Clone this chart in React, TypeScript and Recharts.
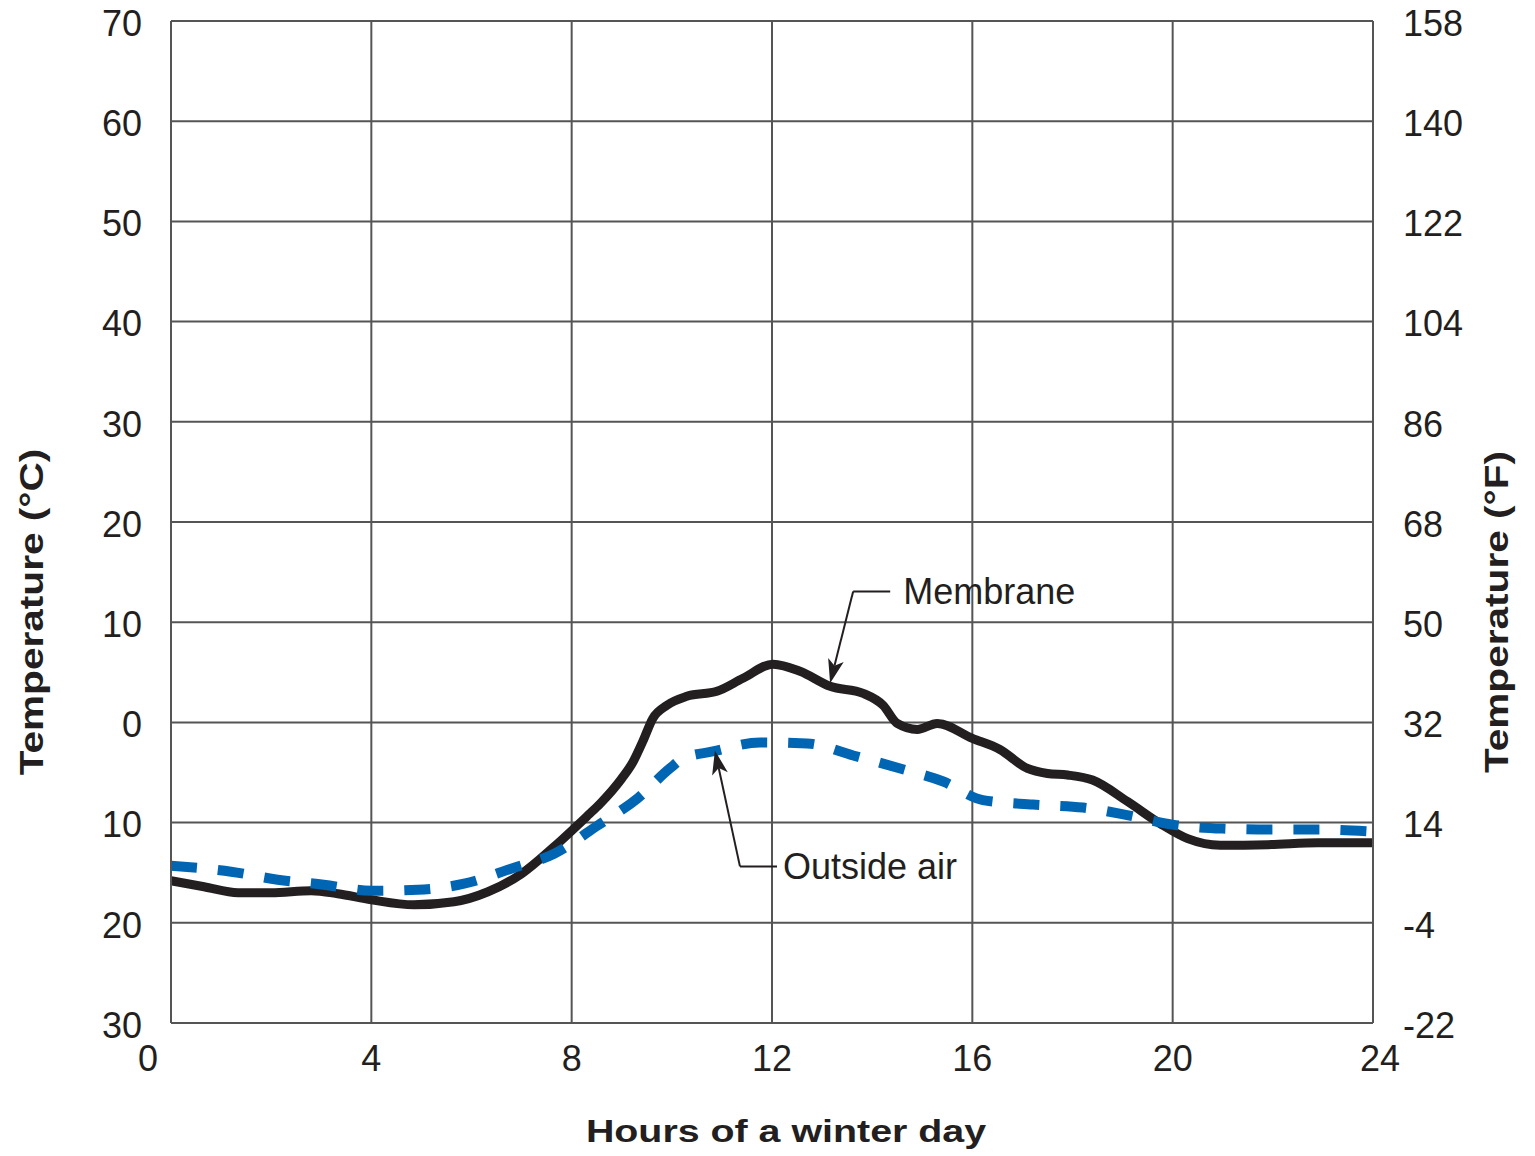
import { LineChart, Line, XAxis, YAxis, CartesianGrid, ReferenceLine, ReferenceDot, Label } from 'recharts';

// hours of the day / temperature in °C
const membraneHours = [0, 0.66, 1.34, 2.0, 2.8, 3.33, 4.0, 4.85, 5.65, 6.33, 7.0, 7.65, 8.33, 8.57, 9.0, 9.23, 9.42, 9.62, 9.9, 10.3, 10.9, 11.42, 12.02, 12.56, 13.16, 13.82, 14.22, 14.5, 14.9, 15.3, 16.0, 16.55, 17.1, 17.5, 17.9, 18.4, 19.1, 19.75, 20.3, 20.95, 21.9, 22.9, 24];
const membraneTemps = [-15.8, -16.4, -17.0, -17.0, -16.8, -17.1, -17.7, -18.2, -17.9, -16.9, -15.1, -12.4, -9.25, -8.1, -5.6, -3.9, -1.9, 0.4, 1.7, 2.6, 3.1, 4.4, 5.8, 5.1, 3.6, 2.9, 1.7, -0.1, -0.7, -0.1, -1.6, -2.7, -4.6, -5.1, -5.25, -5.75, -7.9, -10.1, -11.6, -12.25, -12.2, -12.0, -12.0];

const airHours = [0, 1.2, 2.13, 3.05, 4.0, 4.93, 5.85, 6.79, 7.65, 8.53, 9.31, 9.96, 10.22, 10.82, 11.76, 12.7, 13.62, 14.56, 15.42, 16.21, 17.21, 18.21, 19.09, 20.0, 21.0, 21.94, 22.94, 24];
const airTemps = [-14.3, -14.9, -15.7, -16.2, -16.8, -16.7, -16.1, -14.6, -13.1, -10.25, -7.6, -4.6, -3.6, -2.9, -2.0, -2.1, -3.3, -4.6, -5.9, -7.75, -8.2, -8.5, -9.25, -10.2, -10.6, -10.7, -10.7, -10.9];

const hourTicks = [0, 4, 8, 12, 16, 20, 24];
const celsiusTicks = [-30, -20, -10, 0, 10, 20, 30, 40, 50, 60, 70];

const membraneData = membraneHours.map((h, i) => ({ hour: h, temp: membraneTemps[i] }));
const airData = airHours.map((h, i) => ({ hour: h, temp: airTemps[i] }));

const FONT = '"Liberation Sans", Arial, Helvetica, sans-serif';
const INK = '#231f20';
const GRID = '#555';

const XTick = (props: any) => {
  const { x, y, payload } = props;
  const shift = payload.value === 0 ? -23 : payload.value === 24 ? 7 : 0;
  return (
    <text x={x + shift} y={y} dy="0.71em" textAnchor="middle" fontSize={36} fontFamily={FONT} fill={INK}>
      {payload.value}
    </text>
  );
};

// the titles in the figure are set wider than the regular face
const SideTitle = (props: any) => {
  const { viewBox, value, offsetX } = props;
  const cx = viewBox.x + offsetX;
  const cy = 612;
  return (
    <text transform={`translate(${cx}, ${cy}) rotate(-90) scale(1.23, 1)`} textAnchor="middle" dominantBaseline="central"
      fontSize={33} fontWeight="bold" fontFamily={FONT} fill={INK}>
      {value}
    </text>
  );
};

const BottomTitle = (props: any) => {
  const { value } = props;
  return (
    <text transform="translate(786, 1142) scale(1.27, 1)" textAnchor="middle" fontSize={31} fontWeight="bold" fontFamily={FONT} fill={INK}>
      {value}
    </text>
  );
};

const Arrow = (props: any) => {
  const { x1, y1, x2, y2 } = props;
  const a = Math.atan2(y2 - y1, x2 - x1);
  const len = 24;
  const half = 8;
  const bx = x2 - len * Math.cos(a);
  const by = y2 - len * Math.sin(a);
  const nx = -Math.sin(a) * half;
  const ny = Math.cos(a) * half;
  const mx = x2 - (len - 6) * Math.cos(a);
  const my = y2 - (len - 6) * Math.sin(a);
  return (
    <g>
      <line x1={x1} y1={y1} x2={mx} y2={my} stroke={INK} strokeWidth={2} />
      <polygon points={`${x2},${y2} ${bx + nx},${by + ny} ${mx},${my} ${bx - nx},${by - ny}`} fill={INK} />
    </g>
  );
};

export default function App() {
  return (
    <div style={{ position: 'absolute', left: 0, top: 0, background: '#fff' }}>
      <LineChart width={1535} height={1156} margin={{ top: 21, right: 0, bottom: 0, left: 0 }}>
        <CartesianGrid yAxisId="c" stroke={GRID} strokeWidth={2} />
        <XAxis
          type="number"
          dataKey="hour"
          domain={[0, 24]}
          ticks={hourTicks}
          height={133}
          tickSize={0}
          tickMargin={22}
          axisLine={{ stroke: GRID, strokeWidth: 2 }}
          tick={<XTick />}
          label={<Label value="Hours of a winter day" content={<BottomTitle />} />}
        />
        <YAxis
          yAxisId="c"
          type="number"
          domain={[-30, 70]}
          ticks={celsiusTicks}
          width={171}
          tickSize={0}
          tickMargin={29}
          axisLine={{ stroke: GRID, strokeWidth: 2 }}
          tickFormatter={(v: number) => String(Math.abs(v))}
          tick={{ fontSize: 36, fill: INK, fontFamily: FONT, dy: 2 }}
          label={<Label value="Temperature (°C)" content={<SideTitle offsetX={32} />} />}
        />
        <YAxis
          yAxisId="f"
          orientation="right"
          type="number"
          domain={[-30, 70]}
          ticks={celsiusTicks}
          width={162}
          tickSize={0}
          tickMargin={30}
          axisLine={{ stroke: GRID, strokeWidth: 2 }}
          tickFormatter={(v: number) => String(Math.round(v * 1.8 + 32))}
          tick={{ fontSize: 36, fill: INK, fontFamily: FONT, dy: 2 }}
          label={<Label value="Temperature (°F)" content={<SideTitle offsetX={124} />} />}
        />
        <Line
          yAxisId="c"
          data={membraneData}
          dataKey="temp"
          type="monotone"
          stroke={INK}
          strokeWidth={9}
          dot={false}
          isAnimationActive={false}
        />
        <Line
          yAxisId="f"
          data={airData}
          dataKey="temp"
          type="monotone"
          stroke="#0066b3"
          strokeWidth={10}
          strokeDasharray="26 21"
          dot={false}
          isAnimationActive={false}
        />
        <ReferenceLine yAxisId="c" segment={[{ x: 13.62, y: 13.07 }, { x: 14.36, y: 13.07 }]} stroke={INK} strokeWidth={2} />
        <ReferenceLine yAxisId="c" segment={[{ x: 13.62, y: 13.07 }, { x: 13.16, y: 3.9 }]} shape={<Arrow />} />
        <ReferenceDot yAxisId="c" x={14.62} y={13.07} r={0} fill="none" stroke="none"
          label={{ value: 'Membrane', position: 'right', offset: 0, fontSize: 36, fill: INK, fontFamily: FONT }} />
        <ReferenceLine yAxisId="c" segment={[{ x: 11.36, y: -14.37 }, { x: 12.1, y: -14.37 }]} stroke={INK} strokeWidth={2} />
        <ReferenceLine yAxisId="c" segment={[{ x: 11.36, y: -14.37 }, { x: 10.86, y: -2.8 }]} shape={<Arrow />} />
        <ReferenceDot yAxisId="c" x={12.22} y={-14.37} r={0} fill="none" stroke="none"
          label={{ value: 'Outside air', position: 'right', offset: 0, fontSize: 36, fill: INK, fontFamily: FONT }} />
      </LineChart>
    </div>
  );
}
